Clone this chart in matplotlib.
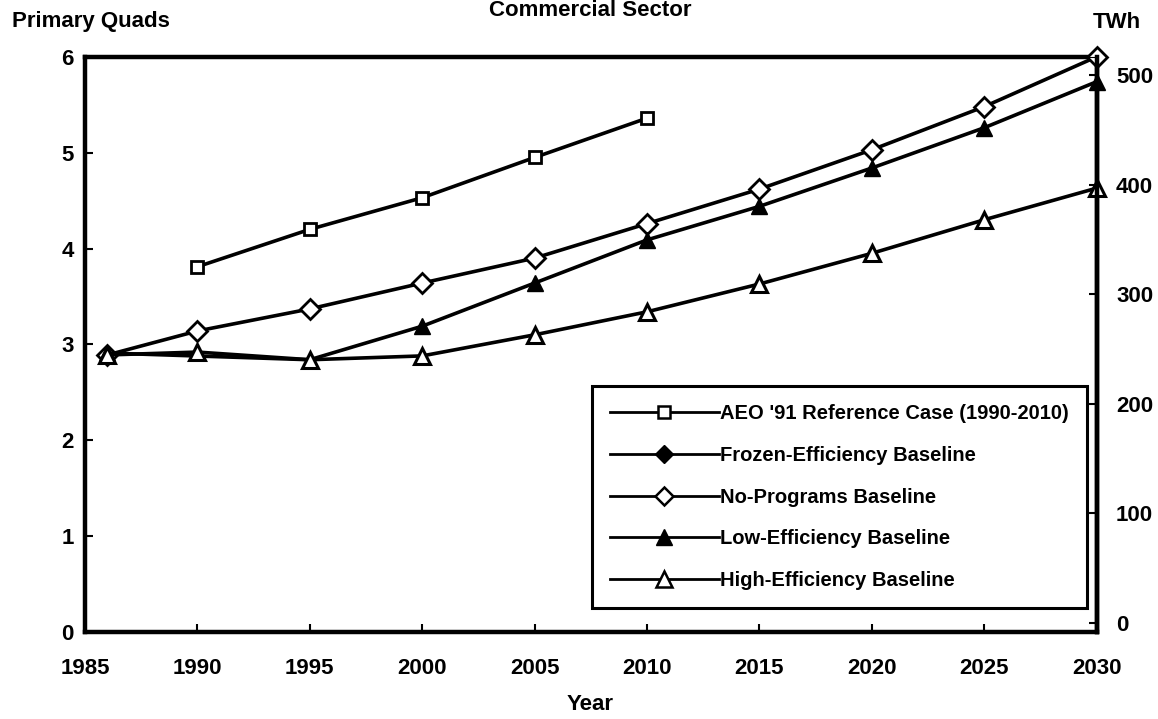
import matplotlib.pyplot as plt
from matplotlib.lines import Line2D

plt.rcParams['font.family'] = ['Liberation Sans', 'DejaVu Sans']
plt.rcParams['font.weight'] = 'bold'

# 数据（左轴：Primary Quads）
years_aeo = [1990, 1995, 2000, 2005, 2010]
aeo91 = [3.81, 4.20, 4.53, 4.95, 5.36]

years = [1986, 1990, 1995, 2000, 2005, 2010, 2015, 2020, 2025, 2030]
no_programs = [2.89, 3.14, 3.37, 3.64, 3.90, 4.26, 4.62, 5.03, 5.48, 6.00]
high_eff = [2.89, 2.92, 2.84, 2.88, 3.10, 3.34, 3.63, 3.95, 4.30, 4.63]

years_low = [1986, 1995, 2000, 2005, 2010, 2015, 2020, 2025, 2030]
low_eff = [2.91, 2.84, 3.19, 3.64, 4.09, 4.44, 4.84, 5.26, 5.74]

# Frozen-Efficiency 在图中没有可见的数据点，只出现在图例里
years_frozen = []
frozen = []

x_ticks = [1985, 1990, 1995, 2000, 2005, 2010, 2015, 2020, 2025, 2030]
left_ticks = [0, 1, 2, 3, 4, 5, 6]
right_ticks = [0, 100, 200, 300, 400, 500]

fig = plt.figure(figsize=(11.58, 7.19), dpi=100)
ax = fig.add_axes([0.0734, 0.121, 0.8736, 0.800])

lw = 2.6
ms = 10
common = dict(color='black', lw=lw, clip_on=False)
ax.plot(years_aeo, aeo91, marker='s', ms=ms - 1, mfc='white', mec='black',
        mew=2, zorder=3, **common)
ax.plot(years_frozen, frozen, marker='D', ms=ms - 2, mfc='black', mec='black',
        zorder=3, **common)
ax.plot(years, no_programs, marker='D', ms=ms, mfc='white', mec='black',
        mew=2, zorder=3, **common)
ax.plot(years_low, low_eff, marker='^', ms=ms + 2, mfc='black', mec='black',
        zorder=3, **common)
ax.plot(years, high_eff, marker='^', ms=ms + 2, mfc='white', mec='black',
        mew=2.2, zorder=4, **common)

ax.set_xlim(1985, 2030)
ax.set_ylim(0, 6)
ax.set_xticks(x_ticks)
ax.set_yticks(left_ticks)
ax.tick_params(axis='x', direction='in', length=6, width=1.5, labelsize=16, pad=19)
ax.tick_params(axis='y', direction='in', length=6, width=1.5, labelsize=16, pad=8)
for s in ax.spines.values():
    s.set_linewidth(3.2)

ax2 = ax.twinx()
ax2.set_ylim(-8.2, 516.5)
ax2.set_yticks(right_ticks)
ax2.tick_params(direction='in', length=6, width=1.5, labelsize=16, pad=14)
ax2.spines['right'].set_linewidth(3.2)

# 图例
handles = [
    Line2D([], [], color='black', lw=2, marker='s', ms=9, mfc='white', mec='black', mew=1.8),
    Line2D([], [], color='black', lw=2, marker='D', ms=9, mfc='black', mec='black'),
    Line2D([], [], color='black', lw=2, marker='D', ms=9, mfc='white', mec='black', mew=1.8),
    Line2D([], [], color='black', lw=2, marker='^', ms=11, mfc='black', mec='black'),
    Line2D([], [], color='black', lw=2, marker='^', ms=11, mfc='white', mec='black', mew=1.8),
]
labels = ["AEO '91 Reference Case (1990-2010)", "Frozen-Efficiency Baseline",
          "No-Programs Baseline", "Low-Efficiency Baseline", "High-Efficiency Baseline"]
leg = ax.legend(handles, labels, loc='lower right', bbox_to_anchor=(0.990, 0.042),
                frameon=True, fancybox=False, edgecolor='black', framealpha=1,
                handlelength=5.4, handletextpad=0.05, labelspacing=1.12,
                borderpad=0.9, borderaxespad=0, prop={'size': 14.5, 'weight': 'bold'})
leg.get_frame().set_linewidth(2.2)
leg.set_zorder(10)

fig.text(12 / 1158, 1 - 22 / 719, 'Primary Quads', fontsize=16, va='center')
fig.text(590 / 1158, 1 - 10 / 719, 'Commercial Sector', fontsize=16,
         ha='center', va='center')
fig.text(1117 / 1158, 1 - 22 / 719, 'TWh', fontsize=16, ha='center', va='center')
fig.text(590 / 1158, 1 - 705 / 719, 'Year', fontsize=16, ha='center', va='center')

plt.savefig('out.png', dpi=100)
